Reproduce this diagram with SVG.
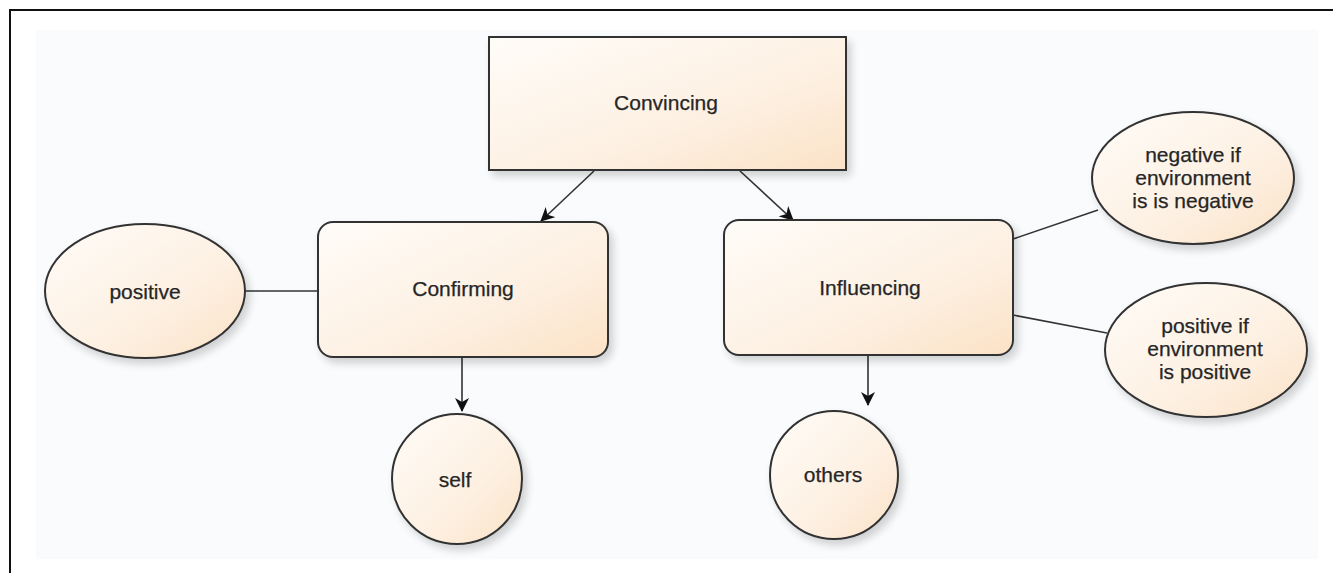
<svg xmlns="http://www.w3.org/2000/svg" width="1333" height="573" viewBox="0 0 1333 573">
<defs>
<linearGradient id="fill" x1="0" y1="0" x2="1" y2="1">
<stop offset="0" stop-color="#fffcf8"/>
<stop offset="0.6" stop-color="#fdf0e2"/>
<stop offset="1" stop-color="#fbe2c6"/>
</linearGradient>
<filter id="sh" x="-10%" y="-10%" width="130%" height="130%">
<feGaussianBlur in="SourceAlpha" stdDeviation="4"/>
<feOffset dx="4" dy="5" result="b"/>
<feComponentTransfer><feFuncA type="linear" slope="0.18"/></feComponentTransfer>
<feMerge><feMergeNode/><feMergeNode in="SourceGraphic"/></feMerge>
</filter>
<marker id="arr" viewBox="0 0 14 14" refX="13" refY="7" markerWidth="14" markerHeight="14" markerUnits="userSpaceOnUse" orient="auto">
<path d="M0,0 L14,7 L0,14 L4,7 Z" fill="#111"/>
</marker>
</defs>
<style>
.shape{fill:url(#fill);stroke:#333;stroke-width:2;filter:url(#sh)}
.lbl{font-family:"Liberation Sans",Arial,sans-serif;font-size:21px;fill:#262626;stroke:#262626;stroke-width:0.25;text-anchor:middle}
.con{stroke:#333;stroke-width:1.6;fill:none}
.arrow{marker-end:url(#arr)}
</style>
<rect x="0" y="0" width="1333" height="573" fill="#ffffff"/>
<rect x="36" y="30" width="1282" height="529" fill="#f9fbfd"/>
<path d="M10,573 V10 H1333" fill="none" stroke="#111" stroke-width="2"/>
<g id="connectors">
<line class="con arrow" x1="594" y1="171" x2="541" y2="221"/>
<line class="con arrow" x1="740" y1="171" x2="793" y2="220"/>
<line class="con arrow" x1="462" y1="357" x2="462" y2="411"/>
<line class="con arrow" x1="868" y1="355" x2="868" y2="405"/>
<line class="con" x1="245" y1="291" x2="318" y2="291"/>
<line class="con" x1="1013" y1="239" x2="1098" y2="210"/>
<line class="con" x1="1013" y1="315" x2="1107" y2="333"/>
</g>
<g id="convincing">
<rect class="shape" x="489" y="37" width="357" height="133"/>
<text class="lbl" x="666" y="110">Convincing</text>
</g>
<g id="confirming">
<rect class="shape" x="318" y="222" width="290" height="135" rx="15"/>
<text class="lbl" x="463" y="296">Confirming</text>
</g>
<g id="influencing">
<rect class="shape" x="724" y="220" width="289" height="135" rx="15"/>
<text class="lbl" x="870" y="295">Influencing</text>
</g>
<g id="positive">
<ellipse class="shape" cx="145" cy="291" rx="100" ry="67"/>
<text class="lbl" x="145" y="299">positive</text>
</g>
<g id="negative-if">
<ellipse class="shape" cx="1193" cy="178" rx="101" ry="66"/>
<text class="lbl" x="1193" y="162">negative if</text>
<text class="lbl" x="1193" y="185">environment</text>
<text class="lbl" x="1193" y="208">is is negative</text>
</g>
<g id="positive-if">
<ellipse class="shape" cx="1206" cy="350" rx="101" ry="67"/>
<text class="lbl" x="1205" y="333">positive if</text>
<text class="lbl" x="1205" y="356">environment</text>
<text class="lbl" x="1205" y="379">is positive</text>
</g>
<g id="self">
<circle class="shape" cx="457" cy="479" r="65"/>
<text class="lbl" x="455" y="487">self</text>
</g>
<g id="others">
<circle class="shape" cx="834" cy="475" r="64"/>
<text class="lbl" x="833" y="482">others</text>
</g>
</svg>
